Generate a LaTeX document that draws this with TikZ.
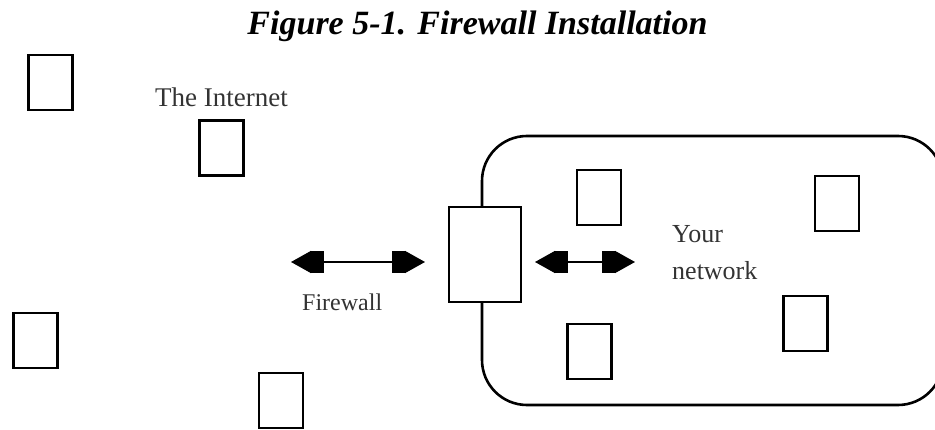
\documentclass[tikz,border=0pt]{standalone}
\usepackage{fontspec}
\setmainfont{Liberation Serif}
\usepackage{tikz}
\usetikzlibrary{arrows.meta,calc,positioning}
\tikzset{host/.style={draw,line width=2.4pt,fill=white,minimum width=44pt,minimum height=55pt,inner sep=0pt},
  lbl/.style={inner sep=0pt,anchor=base west,text=black!80},
  fat/.tip={Rectangle[length=13pt,width=22pt,sep=0pt]Triangle[length=20pt,width=22pt]}}

\begin{document}
\begin{tikzpicture}[x=1pt,y=-1pt,line join=miter]
\useasboundingbox (0,0) rectangle (935,430);
\clip (0,0) rectangle (935,430);
% --- title
\node[anchor=base,inner sep=0pt,font=\fontsize{34}{40}\selectfont\bfseries\itshape] (ttl) at (477.5,35) {Figure 5-1. Firewall Installation};
% --- the internet side
\node[host] (i1) at (50.5,82.5) {};
\node[host] (i2) at (221.5,148) {};
\node[host] (i3) at (35.5,340.5) {};
\node[host] (i4) at (281,400.5) {};
\node[lbl,font=\fontsize{27}{30}\selectfont] (inet) at (155,107) {The Internet};
% --- your network: rounded region, hosts, firewall on its edge
\draw[line width=2.6pt,rounded corners=45pt] (482,136) rectangle (943,405);
\node[host] (n1) at (599,197.5) {};
\node[host] (n2) at (837,203.5) {};
\node[host] (n3) at (805.5,323.5) {};
\node[host] (n4) at (589.5,351.5) {};
\node[lbl,font=\fontsize{26}{30}\selectfont] (your) at (672,243) {Your};
\node[lbl,font=\fontsize{26}{30}\selectfont] (netw) at (672,280) {network};
\node[host,line width=2pt,minimum width=72pt,minimum height=95pt] (fw) at (485,254.5) {};
\node[lbl,font=\fontsize{24}{30}\selectfont] (fwl) at (302,311) {Firewall};
% --- traffic through the firewall
\coordinate (wanL) at (291,262); \coordinate (wanR) at ($(fw.west |- wanL)+(-23,0)$);
\coordinate (lanL) at ($(fw.east |- wanL)+(13,0)$); \coordinate (lanR) at (635,262);
\draw[{fat}-{fat},line width=1.4pt] (wanL) -- (wanR);
\draw[{fat}-{fat},line width=1.4pt] (lanL) -- (lanR);
\end{tikzpicture}
\end{document}
